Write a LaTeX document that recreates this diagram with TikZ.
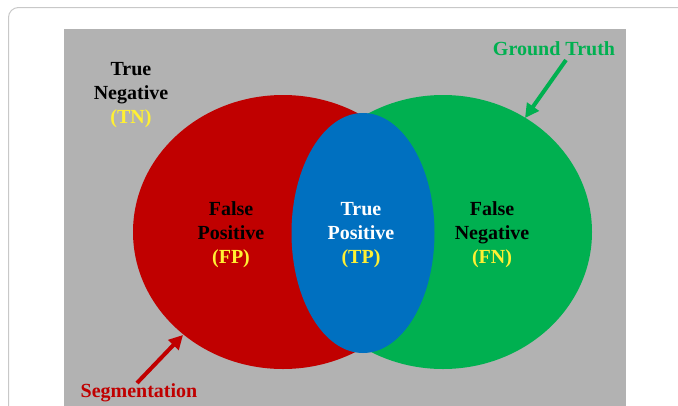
\documentclass[tikz,border=0pt]{standalone}
\usepackage{fontspec}
\setmainfont{Liberation Serif}
\usetikzlibrary{arrows.meta}
\definecolor{bggray}{HTML}{B2B2B2}
\definecolor{framegray}{HTML}{C8C8C8}
\definecolor{segred}{HTML}{C00000}
\definecolor{gtgreen}{HTML}{00B050}
\definecolor{tpblue}{HTML}{0070C0}
\definecolor{lblyellow}{HTML}{FFF033}
\tikzset{
  lbl/.style={align=center, font=\fontsize{20}{24}\selectfont\bfseries, inner sep=0pt},
  pointer/.style={line width=4pt, -{Triangle[length=14pt,width=14pt]}}
}
\begin{document}
\begin{tikzpicture}[x=1pt,y=-1pt]
\useasboundingbox (0,0) rectangle (678,405);
\clip (0,0) rectangle (678,405);
\draw[framegray, line width=1pt, rounded corners=10pt] (8.5,7.5) rectangle (720,440);
\fill[bggray] (64,29) rectangle (626,420);
\fill[segred] (283,232) ellipse [x radius=150, y radius=137];
\fill[gtgreen] (443,232) ellipse [x radius=149, y radius=137];
\fill[tpblue] (363,233) ellipse [x radius=71.5, y radius=120];
\node[lbl, text=black] (tn) at (131,95) {True\\Negative\\\textcolor{lblyellow}{(TN)}};
\node[lbl, text=black] (fp) at (231,235) {False\\Positive\\\textcolor{lblyellow}{(FP)}};
\node[lbl, text=white] (tp) at (361,235) {True\\Positive\\\textcolor{lblyellow}{(TP)}};
\node[lbl, text=black] (fn) at (492,235) {False\\Negative\\\textcolor{lblyellow}{(FN)}};
\node[lbl, text=gtgreen] (gt) at (554,49) {Ground Truth};
\node[lbl, text=segred] (seg) at (139,393) {Segmentation};
\coordinate (gttail) at (566,60);
\coordinate (gttip) at (525,118);
\coordinate (segtail) at (137,383);
\coordinate (segtip) at (183,335);
\draw[pointer, gtgreen] (gttail) -- (gttip);
\draw[pointer, segred] (segtail) -- (segtip);
\end{tikzpicture}
\end{document}
